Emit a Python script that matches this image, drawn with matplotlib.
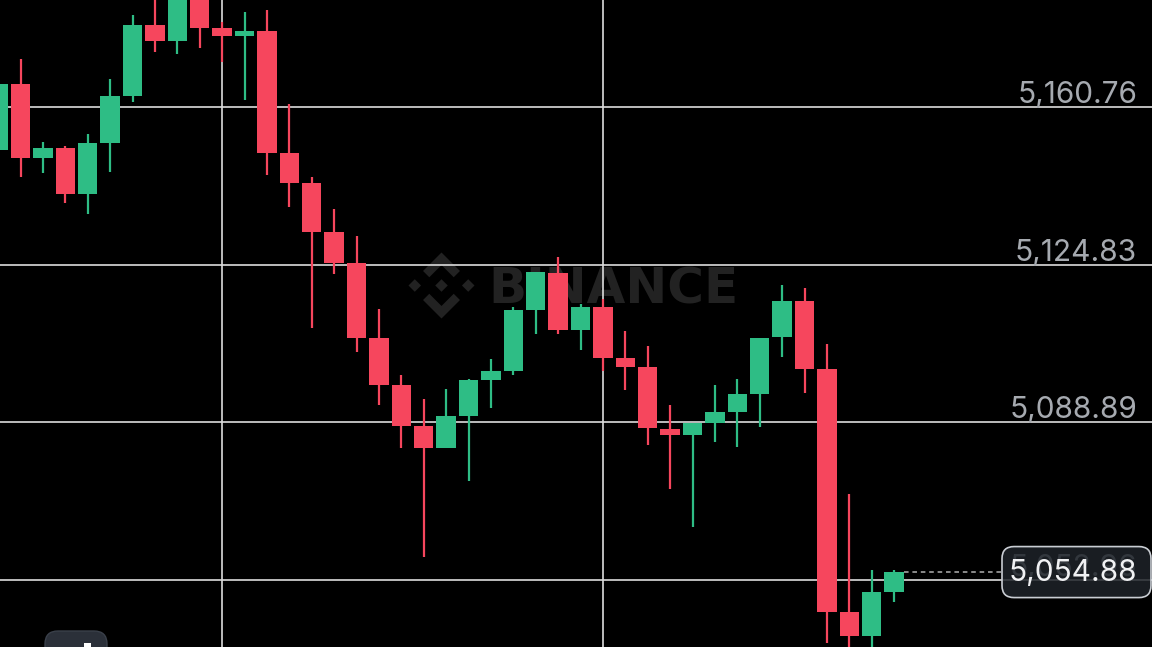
import matplotlib
matplotlib.use("Agg")
import matplotlib.pyplot as plt
from matplotlib.patches import Polygon, FancyBboxPatch
from matplotlib.transforms import offset_copy
import numpy as np

# candle data (index 0 is the first full candle at the left edge)
idx = list(range(-1, 40))
opens = [5151.00, 5166.00, 5149.13, 5151.41, 5140.93, 5152.55, 5163.26, 5179.44, 5175.80, 5186.00,
         5178.76, 5176.94, 5178.07, 5150.27, 5143.44, 5132.27, 5125.20, 5108.11, 5097.40, 5088.06,
         5083.04, 5090.34, 5098.54, 5100.59, 5114.49, 5122.93, 5109.94, 5115.18, 5103.55, 5101.50,
         5087.37, 5086.01, 5088.74, 5091.25, 5095.35, 5108.34, 5116.55, 5101.05, 5045.67, 5040.20,
         5050.26]
highs = [5166.50, 5171.70, 5152.78, 5151.87, 5154.60, 5167.14, 5181.72, 5186.50, 5190.00, 5188.00,
         5180.13, 5182.41, 5182.86, 5161.44, 5144.80, 5137.51, 5131.36, 5114.72, 5099.68, 5094.21,
         5096.49, 5098.77, 5103.33, 5115.18, 5123.15, 5126.57, 5115.86, 5117.00, 5109.71, 5106.29,
         5092.85, 5088.74, 5097.40, 5098.77, 5108.11, 5120.19, 5119.51, 5106.75, 5072.56, 5055.24,
         5055.24]
lows = [5148.90, 5144.80, 5145.72, 5138.88, 5136.37, 5145.94, 5161.90, 5173.29, 5172.83, 5174.20,
        5171.01, 5162.35, 5145.26, 5137.97, 5110.39, 5122.70, 5104.92, 5092.85, 5083.04, 5058.21,
        5083.04, 5075.52, 5092.16, 5099.68, 5109.02, 5109.02, 5105.38, 5100.59, 5096.26, 5083.73,
        5073.70, 5065.04, 5084.41, 5083.27, 5087.83, 5103.78, 5095.58, 5038.61, 5035.00, 5035.00,
        5047.98]
closes = [5166.00, 5149.13, 5151.41, 5140.93, 5152.55, 5163.26, 5179.44, 5175.80, 5187.40, 5178.76,
          5176.94, 5178.07, 5150.27, 5143.44, 5132.27, 5125.20, 5108.11, 5097.40, 5088.06, 5083.04,
          5090.34, 5098.54, 5100.59, 5114.49, 5123.15, 5109.94, 5115.18, 5103.55, 5101.50, 5087.60,
          5086.01, 5088.74, 5091.25, 5095.35, 5108.11, 5116.55, 5101.05, 5045.67, 5040.20, 5050.26,
          5054.88]

price_levels = [5160.76, 5124.83, 5088.89, 5052.96]
level_labels = ["5,160.76", "5,124.83", "5,088.89", "5,052.96"]
time_grid = [9, 26]
last_price = 5054.88
last_label = "5,054.88"

UP = "#2ebd85"
DOWN = "#f6465d"
GRID = "#dcdcdc"
W, H = 1152, 647

fig = plt.figure(figsize=(W / 100, H / 100), dpi=100, facecolor="black")

# background overlay in pixel coords (watermark)
bg = fig.add_axes([0, 0, 1, 1], zorder=0)
bg.set_xlim(0, W)
bg.set_ylim(H, 0)
bg.axis("off")

wm = "#222222"
cx, cy, s = 441.5, 285.5, 33.0
def logo(pts):
    return Polygon([(cx + px * s, cy - py * s) for px, py in pts], closed=True,
                   facecolor=wm, edgecolor="none")
d = 0.19
for ox in (-0.81, 0.0, 0.81):
    bg.add_patch(logo([(ox - d, 0), (ox, d), (ox + d, 0), (ox, -d)]))
for sg in (1, -1):
    bg.add_patch(logo([(-0.56, 0.44 * sg), (0, 1.0 * sg), (0.56, 0.44 * sg),
                       (0.37, 0.25 * sg), (0, 0.62 * sg), (-0.37, 0.25 * sg)]))
bg.text(488, 304, "BINANCE", fontsize=36, fontweight="bold", family="DejaVu Sans",
        color=wm, ha="left", va="baseline")

# main chart
ax = fig.add_axes([0, 0, 1, 1], zorder=1)
ax.set_facecolor("none")
pitch, x0px = 22.4, 20.5
ax.set_xlim(-x0px / pitch, (W - x0px) / pitch)
px_per_price = (580 - 107) / (price_levels[0] - price_levels[-1])
ax.set_ylim(price_levels[0] - (H - 107) / px_per_price, price_levels[0] + 107 / px_per_price)
ax.axis("off")

for p in price_levels:
    ax.axhline(p, color=GRID, lw=1.2, zorder=1)
for t in time_grid:
    ax.axvline(t, color=GRID, lw=1.2, zorder=1)

o = np.array(opens); c = np.array(closes)
cols = [UP if cc >= oo else DOWN for oo, cc in zip(o, c)]
ax.vlines(idx, lows, highs, colors=cols, lw=1.6, zorder=2)
ax.bar(idx, np.abs(c - o), bottom=np.minimum(o, c), width=0.87, color=cols,
       edgecolor="none", zorder=3)

# price labels on the right
lab_tr = offset_copy(ax.get_yaxis_transform(), fig=fig, y=4, units="dots")
for p, lab in zip(price_levels, level_labels):
    ax.text(1137 / W, p, lab, transform=lab_tr, ha="right", va="baseline",
            fontsize=21.5, family="Inter", color="#a6aab0", zorder=4)

# last price dashed line and label box
box_left = 1002
x_end = ax.get_xlim()[0] + box_left / W * (ax.get_xlim()[1] - ax.get_xlim()[0])
ax.plot([idx[-1] + 0.45, x_end], [last_price, last_price], ls=(0, (3, 2.5)),
        color="#b0b0b0", lw=1.1, zorder=4)

fg = fig.add_axes([0, 0, 1, 1], zorder=2)
fg.set_xlim(0, W)
fg.set_ylim(H, 0)
fg.axis("off")
fg.set_facecolor("none")
ly = H - ax.transData.transform((0, last_price))[1]
fg.add_patch(FancyBboxPatch((box_left + 12, ly - 25 + 12), 149 - 24, 51 - 24,
                            boxstyle="round,pad=12", facecolor="#1e2329", alpha=0.85,
                            edgecolor="none"))
fg.add_patch(FancyBboxPatch((box_left + 12, ly - 25 + 12), 149 - 24, 51 - 24,
                            boxstyle="round,pad=12", facecolor="none",
                            edgecolor="#c9cdd3", lw=1.2))
fg.text(1137, ly + 1, last_label, ha="right", va="center", fontsize=21.5,
        family="Inter", color="#f0f1f3")

# partial button at bottom-left
fg.add_patch(FancyBboxPatch((45 + 13, 631 + 13), 62 - 26, 40, boxstyle="round,pad=13",
                            facecolor="#2b3039", edgecolor="#3a404a", lw=1))
fg.add_patch(Polygon([(84, 647), (84, 643), (91, 643), (91, 647)], closed=True,
                     facecolor="white", edgecolor="none"))

fig.savefig("out.png", dpi=100, facecolor="black")
